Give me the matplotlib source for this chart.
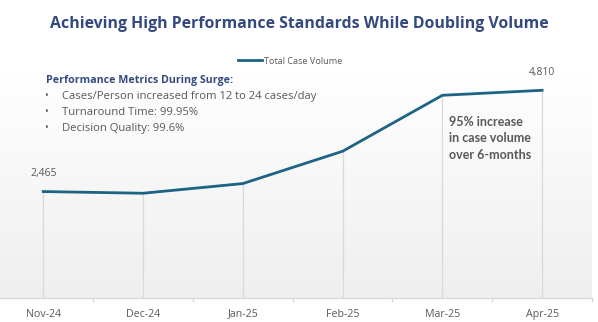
import numpy as np
import matplotlib
matplotlib.use("Agg")
import matplotlib.pyplot as plt
from matplotlib.colors import LinearSegmentedColormap

# Donnees
mois = ["Nov-24", "Dec-24", "Jan-25", "Feb-25", "Mar-25", "Apr-25"]
volume = [2465, 2426, 2650, 3398, 4694, 4810]
etiquettes = {0: "2,465", 5: "4,810"}

titre = "Achieving High Performance Standards While Doubling Volume"
entete_metriques = "Performance Metrics During Surge:"
metriques = [
    "Cases/Person increased from 12 to 24 cases/day",
    "Turnaround Time: 99.95%",
    "Decision Quality: 99.6%",
]
note = "95% increase\nin case volume\nover 6-months"

BLEU_LIGNE = "#1d6383"
BLEU_TITRE = "#34497f"
GRIS_TEXTE = "#595959"
GRIS_GRILLE = "#d9d9d9"

plt.rcParams["font.family"] = ["Open Sans", "DejaVu Sans"]

W, H = 598, 322
fig = plt.figure(figsize=(W / 100, H / 100), dpi=100)
fig.patch.set_facecolor("white")

# zone du graphique en pixels : x 0 -> 592, y 70 -> 298
ax = fig.add_axes([0, 1 - 298 / H, 592 / W, (298 - 70) / H])
x = np.arange(len(mois))
xmin, xmax = -0.434, 5.5
ymin, ymax = 0, 5280
ax.set_xlim(xmin, xmax)
ax.set_ylim(ymin, ymax)

# fond en degrade blanc -> gris clair
degrade = LinearSegmentedColormap.from_list("fond", ["#ffffff", "#efefef"])
ax.imshow(np.linspace(0, 1, 256).reshape(-1, 1), extent=[xmin, xmax, ymin, ymax],
          aspect="auto", cmap=degrade, zorder=0)

ax.vlines(x, 0, volume, color=GRIS_GRILLE, linewidth=0.9, zorder=1)
ax.plot(x, volume, color=BLEU_LIGNE, linewidth=2.0, zorder=3,
        solid_joinstyle="miter", label="Total Case Volume")

for i, txt in etiquettes.items():
    ax.annotate(txt, (x[i], volume[i]), xytext=(0, 9), textcoords="offset points",
                ha="center", va="bottom", fontsize=7.5, color=GRIS_TEXTE)

for s in ["top", "right", "left"]:
    ax.spines[s].set_visible(False)
ax.spines["bottom"].set_color(GRIS_GRILLE)
ax.spines["bottom"].set_linewidth(1.0)
ax.set_yticks([])
ax.set_xticks(x)
ax.set_xticklabels(mois, fontsize=7.7, color=GRIS_TEXTE)
ax.tick_params(axis="x", which="major", length=0, pad=10.5)
for lab in ax.get_xticklabels():
    lab.set_verticalalignment("center_baseline")
ax.set_xticks(list(x + 0.5), minor=True)
ax.tick_params(axis="x", which="minor", length=3, color=GRIS_GRILLE, width=1)

# titre et legende
fig.text(0.5, 1 - 24 / H, titre, ha="center", va="center", fontsize=11.4,
         fontweight="bold", color=BLEU_TITRE)
leg = fig.legend(loc="center", bbox_to_anchor=(290 / W, 1 - 61 / H), frameon=False,
                 fontsize=6.6, handlelength=2.6, handletextpad=0.2)
for t in leg.get_texts():
    t.set_color(GRIS_TEXTE)

# bloc de texte des metriques
fig.text(46 / W, 1 - 80 / H, entete_metriques, ha="left", va="center", fontsize=7.7,
         fontweight="bold", color=BLEU_TITRE)
for k, ligne in enumerate(metriques):
    yy = 1 - (96 + 16.5 * k) / H
    fig.text(44 / W, yy, "\u2022", ha="left", va="center", fontsize=7, color=GRIS_TEXTE)
    fig.text(62 / W, yy, ligne, ha="left", va="center", fontsize=8.1, color=GRIS_TEXTE)

for k, ligne in enumerate(note.split("\n")):
    fig.text(449 / W, 1 - (122 + 16.5 * k) / H, ligne, ha="left", va="center",
             fontsize=9, fontweight="bold", color=GRIS_TEXTE,
             family=["Lato", "DejaVu Sans"])

fig.savefig("out.png", dpi=100, facecolor="white")
